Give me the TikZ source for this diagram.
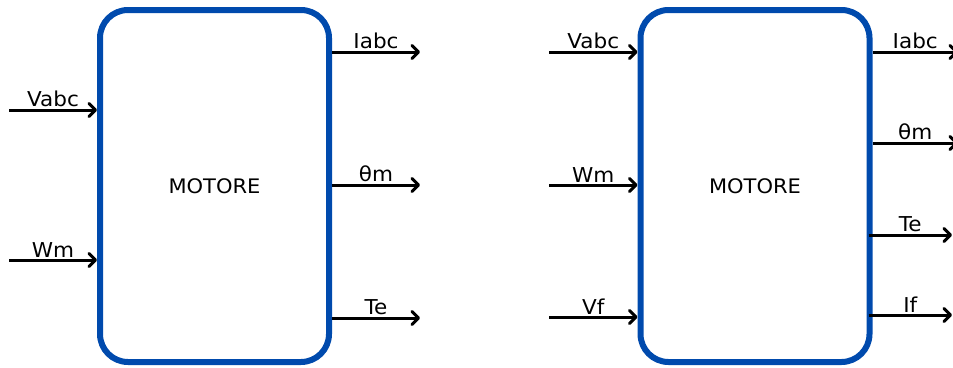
\documentclass[tikz,border=0pt]{standalone}
\usepackage{fontspec}
\setmainfont[FakeStretch=1.05]{DejaVu Sans}
\usetikzlibrary{arrows.meta}
\definecolor{boxblue}{HTML}{004AAD}
\tikzset{
  block/.style={draw=boxblue, line width=6pt, rounded corners=28pt,
    minimum width=229pt, minimum height=352pt, inner sep=0pt,
    font=\fontsize{20}{24}\selectfont},
  sig/.style={line width=3pt, -{Straight Barb[length=6.5pt,width=13pt,line cap=round,line join=round]}},
  lbl/.style={above=1.5pt, inner sep=0pt, font=\fontsize{20.5}{24}\selectfont}
}
\begin{document}
\begin{tikzpicture}[x=1pt,y=-1pt]
\useasboundingbox (0,0) rectangle (953,367);
\clip (0,0) rectangle (953,367);

% first motor block
\node[block] (m1) at (214.5,186) {MOTORE};
\coordinate (a1) at (9,110);
\coordinate (a2) at (9,260);
\coordinate (b1) at (420,52);
\coordinate (b2) at (420,185);
\coordinate (b3) at (420,318);
\draw[sig] (a1) -- node[lbl] {Vabc} (m1.west |- a1);
\draw[sig] (a2) -- node[lbl] {Wm} (m1.west |- a2);
\draw[sig] (m1.east |- b1) -- node[lbl] {Iabc} (b1);
\draw[sig] (m1.east |- b2) -- node[lbl] {θm} (b2);
\draw[sig] (m1.east |- b3) -- node[lbl] {Te} (b3);

% second motor block
\node[block] (m2) at (755,186) {MOTORE};
\coordinate (c1) at (549,52);
\coordinate (c2) at (549,185);
\coordinate (c3) at (549,317);
\coordinate (d1) at (958,52);
\coordinate (d2) at (958,143);
\coordinate (d3) at (952,235);
\coordinate (d4) at (952,315);
\draw[sig] (c1) -- node[lbl] {Vabc} (m2.west |- c1);
\draw[sig] (c2) -- node[lbl] {Wm} (m2.west |- c2);
\draw[sig] (c3) -- node[lbl] {Vf} (m2.west |- c3);
\draw[sig] (m2.east |- d1) -- node[lbl] {Iabc} (d1);
\draw[sig] (m2.east |- d2) -- node[lbl] {θm} (d2);
\draw[sig] ([xshift=-4pt]m2.east |- d3) -- node[lbl] {Te} (d3);
\draw[sig] ([xshift=-4pt]m2.east |- d4) -- node[lbl] {If} (d4);
\end{tikzpicture}
\end{document}
